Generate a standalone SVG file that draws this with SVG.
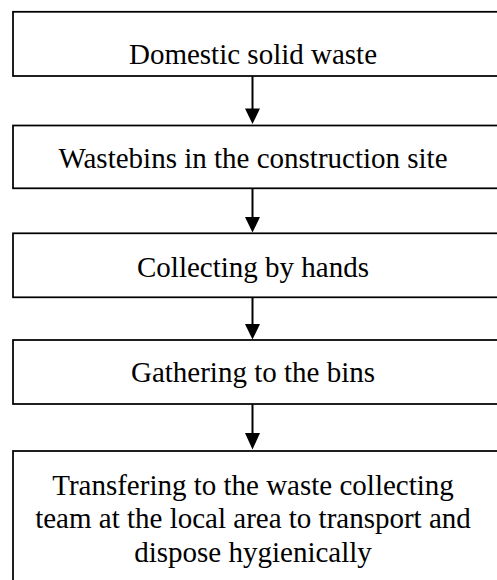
<svg xmlns="http://www.w3.org/2000/svg" width="497" height="580" viewBox="0 0 497 580">
  <style>
    .box { fill: #ffffff; stroke: #000000; stroke-width: 1.75; }
    .label { font-size: 29px; fill: #000000; text-anchor: middle; }
    .link { stroke: #000000; stroke-width: 2; fill: none; }
    .head { fill: #000000; }
  </style>
  <rect width="497" height="580" fill="#ffffff"/>

  <g font-family="'Liberation Serif', 'Times New Roman', Times, 'DejaVu Serif', serif">
    <g id="node-domestic-waste">
      <rect class="box" x="13" y="11.8" width="500" height="64.2"/>
      <text class="label" x="253" y="63.5">Domestic solid waste</text>
    </g>
    <g id="node-wastebins">
      <rect class="box" x="13" y="125.5" width="500" height="62.8"/>
      <text class="label" x="253" y="168">Wastebins in the construction site</text>
    </g>
    <g id="node-collecting">
      <rect class="box" x="13" y="233.3" width="500" height="64"/>
      <text class="label" x="253" y="276.7">Collecting by hands</text>
    </g>
    <g id="node-gathering">
      <rect class="box" x="13" y="340" width="500" height="64"/>
      <text class="label" x="253" y="381.7">Gathering to the bins</text>
    </g>
    <g id="node-transfer">
      <rect class="box" x="13" y="451" width="500" height="160"/>
      <text class="label" x="253" y="495">Transfering to the waste collecting</text>
      <text class="label" x="253" y="528.3">team at the local area to transport and</text>
      <text class="label" x="253" y="561.7">dispose hygienically</text>
    </g>
  </g>

  <g id="connectors">
    <line class="link" x1="252.5" y1="76.5" x2="252.5" y2="110"/>
    <polygon class="head" points="245,108.5 260,108.5 252.5,124"/>
    <line class="link" x1="252.5" y1="188.5" x2="252.5" y2="218"/>
    <polygon class="head" points="245,217 260,217 252.5,232.5"/>
    <line class="link" x1="252.5" y1="297.5" x2="252.5" y2="325"/>
    <polygon class="head" points="245,324 260,324 252.5,339.5"/>
    <line class="link" x1="252.5" y1="404.5" x2="252.5" y2="435"/>
    <polygon class="head" points="245,433 260,433 252.5,449.5"/>
  </g>
</svg>
